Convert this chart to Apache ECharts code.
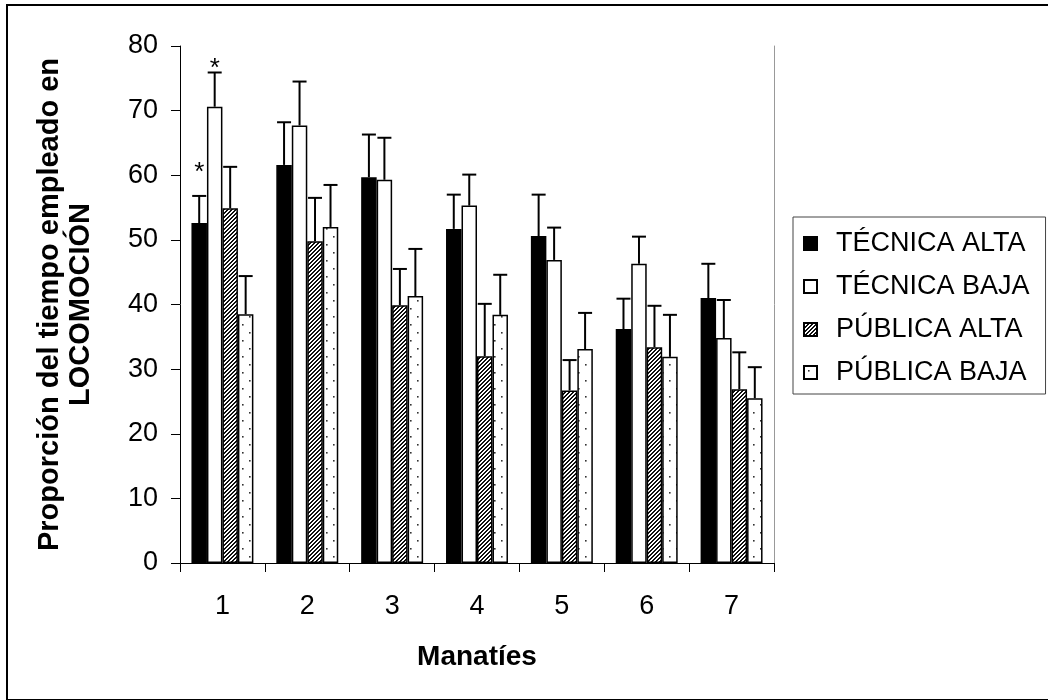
<!DOCTYPE html>
<html>
<head>
<meta charset="utf-8">
<title>Proporción del tiempo empleado en LOCOMOCIÓN</title>
<script src="https://cdn.jsdelivr.net/npm/echarts@6/dist/echarts.min.js"></script>
<style>
  html, body { margin: 0; padding: 0; background: #fff; }
  #chart { width: 1048px; height: 700px; }
</style>
</head>
<body>
<div id="chart"></div>
<script>
// Manatee groups along the x axis
const categories = ['1', '2', '3', '4', '5', '6', '7'];

// Series names (legend order)
const seriesNames = ['TÉCNICA ALTA', 'TÉCNICA BAJA', 'PÚBLICA ALTA', 'PÚBLICA BAJA'];

// Mean proportion of time spent in locomotion
const tecnicaAlta = [52.6, 61.6, 59.7, 51.7, 50.6, 36.2, 41.0];
const tecnicaBaja = [70.6, 67.7, 59.3, 55.3, 46.9, 46.3, 34.8];
const publicaAlta = [54.9, 49.8, 39.9, 32.0, 26.7, 33.4, 26.9];
const publicaBaja = [38.5, 52.0, 41.3, 38.4, 33.1, 31.9, 25.5];

// Upper error (standard error) for each bar
const tecnicaAltaErr = [4.2, 6.6, 6.6, 5.3, 6.4, 4.7, 5.3];
const tecnicaBajaErr = [5.3, 6.8, 6.5, 4.8, 5.0, 4.2, 5.9];
const publicaAltaErr = [6.4, 6.7, 5.6, 8.1, 4.7, 6.4, 5.7];
const publicaBajaErr = [5.9, 6.5, 7.3, 6.2, 5.6, 6.5, 4.8];

// Significance markers: category index, series index, height
const starCategory = [0, 0];
const starSeries = [0, 1];
const starValue = [61.1, 77.3];

// Y axis scale
const yMin = 0, yMax = 80, yStep = 10;

const seriesValues = [tecnicaAlta, tecnicaBaja, publicaAlta, publicaBaja];
const seriesErrors = [tecnicaAltaErr, tecnicaBajaErr, publicaAltaErr, publicaBajaErr];

const FONT = '"Liberation Sans", Arial, Helvetica, sans-serif';
const CATEGORY_GAP = 0.27;

// Diagonal hatch fill ("////")
function makeHatch() {
  const c = document.createElement('canvas');
  c.width = 4; c.height = 4;
  const ctx = c.getContext('2d');
  const img = ctx.createImageData(4, 4);
  for (let y = 0; y < 4; y++) {
    for (let x = 0; x < 4; x++) {
      const dark = ((x + y) % 4) < 2;
      const i = (y * 4 + x) * 4;
      const v = dark ? 15 : 255;
      img.data[i] = v; img.data[i + 1] = v; img.data[i + 2] = v; img.data[i + 3] = 255;
    }
  }
  ctx.putImageData(img, 0, 0);
  return c;
}

// Sparse dotted fill
function makeDots() {
  const c = document.createElement('canvas');
  c.width = 14; c.height = 16;
  const ctx = c.getContext('2d');
  ctx.fillStyle = '#fff';
  ctx.fillRect(0, 0, 14, 16);
  ctx.fillStyle = '#333';
  ctx.fillRect(4, 4, 1.6, 1.6);
  ctx.fillRect(11, 12, 1.6, 1.6);
  return c;
}

const fills = [
  '#000000',
  '#ffffff',
  { image: makeHatch(), repeat: 'repeat' },
  { image: makeDots(), repeat: 'repeat' }
];

const barSeries = seriesNames.map((name, s) => ({
  name: name,
  type: 'bar',
  data: seriesValues[s],
  barGap: '0%',
  barCategoryGap: (CATEGORY_GAP * 100) + '%',
  itemStyle: { color: fills[s], borderColor: '#000', borderWidth: 1.5 },
  emphasis: { disabled: true },
  z: 2
}));

// Error bar data: [category, series, value, error]
const errorData = [];
seriesValues.forEach((vals, s) => {
  vals.forEach((v, i) => errorData.push([i, s, v, seriesErrors[s][i]]));
});

const starData = starCategory.map((c, k) => [c, starSeries[k], starValue[k]]);

function barCenterX(api, cat, s) {
  const catW = api.size([1, 0])[0];
  const barW = catW * (1 - CATEGORY_GAP) / 4;
  return api.coord([cat, 0])[0] + (s - 1.5) * barW;
}

const errorSeries = {
  type: 'custom',
  name: 'error',
  data: errorData,
  encode: { x: 0, y: 2 },
  z: 5,
  silent: true,
  renderItem: function (params, api) {
    const cat = api.value(0), s = api.value(1), v = api.value(2), e = api.value(3);
    const x = barCenterX(api, cat, s);
    const y0 = api.coord([cat, v])[1];
    const y1 = api.coord([cat, v + e])[1];
    const half = 7;
    const style = { stroke: '#000', lineWidth: 2, fill: null };
    return {
      type: 'group',
      children: [
        { type: 'line', shape: { x1: x, y1: y0, x2: x, y2: y1 }, style: style },
        { type: 'line', shape: { x1: x - half, y1: y1, x2: x + half, y2: y1 }, style: style }
      ]
    };
  }
};

const starSeriesDef = {
  type: 'custom',
  name: 'sig',
  data: starData,
  encode: { x: 0, y: 2 },
  z: 6,
  silent: true,
  renderItem: function (params, api) {
    const cat = api.value(0), s = api.value(1), v = api.value(2);
    const x = barCenterX(api, cat, s);
    const y = api.coord([cat, v])[1];
    return {
      type: 'text',
      style: {
        x: x, y: y + 5, text: '*',
        font: '26px ' + FONT, fill: '#000',
        align: 'center', verticalAlign: 'middle'
      }
    };
  }
};

const chart = echarts.init(document.getElementById('chart'), null, { renderer: 'canvas' });

chart.setOption({
  backgroundColor: '#ffffff',
  animation: false,
  textStyle: { fontFamily: FONT, color: '#000' },
  graphic: [{
    type: 'rect',
    shape: { x: 7, y: 5, width: 1060, height: 695 },
    style: { fill: null, stroke: '#000', lineWidth: 2 },
    silent: true,
    z: 0
  }],
  grid: { left: 180, right: 274, top: 46, bottom: 137, containLabel: false },
  legend: {
    orient: 'vertical',
    left: 793,
    top: 217,
    data: seriesNames,
    icon: 'rect',
    itemWidth: 13,
    itemHeight: 13,
    itemGap: 16,
    padding: [13, 16, 8, 10],
    borderColor: '#444',
    borderWidth: 1,
    selectedMode: false,
    textStyle: {
      fontFamily: FONT, fontSize: 27, color: '#000',
      lineHeight: 26, padding: [0, 0, 0, 14]
    }
  },
  xAxis: {
    type: 'category',
    data: categories,
    boundaryGap: true,
    name: 'Manatíes',
    nameLocation: 'middle',
    nameGap: 80,
    nameTextStyle: { fontFamily: FONT, fontSize: 28, fontWeight: 'bold', color: '#000' },
    axisLine: { show: true, lineStyle: { color: '#000', width: 1 } },
    axisTick: { show: true, alignWithLabel: false, inside: false, length: 9, lineStyle: { color: '#000' } },
    axisLabel: { fontFamily: FONT, fontSize: 27, color: '#000', margin: 30 },
    splitLine: { show: false }
  },
  yAxis: [{
    type: 'value',
    min: yMin,
    max: yMax,
    interval: yStep,
    name: 'Proporción del tiempo empleado en\nLOCOMOCIÓN',
    nameLocation: 'middle',
    nameRotate: 90,
    nameGap: 84,
    nameTextStyle: {
      fontFamily: FONT, fontSize: 29, fontWeight: 'bold', color: '#000',
      lineHeight: 31, align: 'center'
    },
    axisLine: { show: true, lineStyle: { color: '#000', width: 1 } },
    axisTick: { show: true, inside: false, length: 9, lineStyle: { color: '#000' } },
    axisLabel: { fontFamily: FONT, fontSize: 27, color: '#000', margin: 22 },
    splitLine: { show: false }
  }, {
    type: 'value',
    position: 'right',
    min: yMin,
    max: yMax,
    interval: yStep,
    axisLine: { show: true, lineStyle: { color: '#999', width: 1 } },
    axisTick: { show: false },
    axisLabel: { show: false },
    splitLine: { show: false }
  }],
  series: barSeries.concat([errorSeries, starSeriesDef])
});
</script>
</body>
</html>
